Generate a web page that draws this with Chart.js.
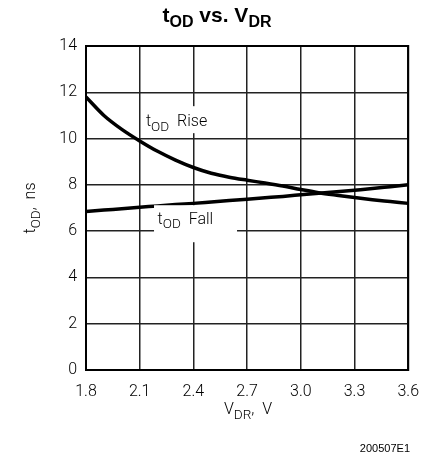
<!DOCTYPE html>
<html>
<head>
<meta charset="utf-8">
<script src="https://cdn.jsdelivr.net/npm/chart.js@4/dist/chart.umd.min.js"></script>
<style>
  body { margin: 0; background: #fff; }
  canvas { display: block; }
</style>
</head>
<body>
<canvas id="myChart" width="431" height="469"></canvas>
<script>
// supply voltage, V
const vdr = [1.8, 1.9, 2.0, 2.1, 2.2, 2.3, 2.4, 2.5, 2.6, 2.7, 2.8, 2.9, 3.0, 3.1, 3.2, 3.3, 3.4, 3.5, 3.6]
// tOD rise, ns
const riseNs = [11.8, 11.0, 10.4, 9.9, 9.45, 9.07, 8.75, 8.5, 8.33, 8.2, 8.08, 7.95, 7.8, 7.66, 7.55, 7.45, 7.36, 7.28, 7.2]
// tOD fall, ns
const fallNs = [6.85, 6.91, 6.97, 7.03, 7.09, 7.15, 7.2, 7.26, 7.32, 7.38, 7.44, 7.5, 7.57, 7.64, 7.7, 7.77, 7.84, 7.92, 8.0]
const xTicks = [1.8, 2.1, 2.4, 2.7, 3.0, 3.3, 3.6]
const yTicks = [0, 2, 4, 6, 8, 10, 12, 14]

const FONT = "Roboto, 'DejaVu Sans', sans-serif"
const TITLEFONT = "'Liberation Sans', Arial, sans-serif"

// text with a subscript part: parts = [[text, sub?], ...]
function subText(ctx, parts, x, y, size, align) {
  let w = 0
  parts.forEach(p => {
    ctx.font = "300 " + (p[1] ? size * 0.85 : size) + "px " + FONT
    w += ctx.measureText(p[0]).width
  })
  let cx = align == "center" ? x - w / 2 : x
  ctx.textAlign = "left"
  ctx.textBaseline = "alphabetic"
  parts.forEach(p => {
    ctx.font = "300 " + (p[1] ? size * 0.85 : size) + "px " + FONT
    ctx.fillText(p[0], cx, p[1] ? y + size * 0.3 : y)
    cx += ctx.measureText(p[0]).width
  })
  return w
}

const extras = {
  id: "extras",
  afterDatasetsDraw: chart => {
    const ctx = chart.ctx
    const xs = chart.scales.x, ys = chart.scales.y
    ctx.save()

    // curve labels with white boxes over the grid
    ctx.fillStyle = "#fff"
    ctx.fillRect(xs.getPixelForValue(2.15), ys.getPixelForValue(11.4), 80, 27)
    ctx.fillRect(xs.getPixelForValue(2.18), ys.getPixelForValue(7.12), 83, 37)
    ctx.fillStyle = "#000"
    subText(ctx, [["t"], ["OD", 1], ["  Rise"]], xs.getPixelForValue(2.135), ys.getPixelForValue(10.55), 16, "left")
    subText(ctx, [["t"], ["OD", 1], ["  Fall"]], xs.getPixelForValue(2.2), ys.getPixelForValue(6.33), 16, "left")

    // title
    const big = "bold 21px " + TITLEFONT, small = "bold 16px " + TITLEFONT
    ctx.font = big
    let t1 = ctx.measureText("t").width, t3 = ctx.measureText(" vs. V").width
    ctx.font = small
    let t2 = ctx.measureText("OD").width, t4 = ctx.measureText("DR").width
    let x0 = 217 - (t1 + t2 + t3 + t4) / 2
    ctx.textAlign = "left"
    ctx.font = big
    ctx.fillText("t", x0, 22)
    ctx.fillText(" vs. V", x0 + t1 + t2, 22)
    ctx.font = small
    ctx.fillText("OD", x0 + t1, 27)
    ctx.fillText("DR", x0 + t1 + t2 + t3, 27)

    // axis titles
    subText(ctx, [["V"], ["DR", 1], [",  V"]], 248, 414, 16, "center")
    ctx.save()
    ctx.translate(35, 208)
    ctx.rotate(-Math.PI / 2)
    subText(ctx, [["t"], ["OD", 1], [",  ns"]], 0, 0, 16, "center")
    ctx.restore()

    ctx.font = "11px " + TITLEFONT
    ctx.textAlign = "right"
    ctx.fillText("200507E1", 410, 452)
    ctx.restore()
  }
}

const ctx = document.getElementById("myChart").getContext("2d")
new Chart(ctx, {
  type: "line",
  data: {
    datasets: [
      { label: "Rise", data: vdr.map((v, i) => ({ x: v, y: riseNs[i] })) },
      { label: "Fall", data: vdr.map((v, i) => ({ x: v, y: fallNs[i] })) }
    ]
  },
  options: {
    responsive: false,
    animation: false,
    events: [],
    layout: { padding: { left: 46, right: 22, top: 46, bottom: 69 } },
    elements: {
      line: { borderColor: "#000", borderWidth: 3.5, tension: 0.4, cubicInterpolationMode: "monotone" },
      point: { radius: 0 }
    },
    plugins: { legend: { display: false }, tooltip: { enabled: false } },
    scales: {
      x: {
        type: "linear", min: 1.8, max: 3.6,
        afterBuildTicks: s => { s.ticks = xTicks.map(v => ({ value: v })) },
        afterFit: s => { s.height = 30 },
        grid: { color: "#222", lineWidth: 1.5, drawTicks: false },
        border: { color: "#000", width: 2 },
        ticks: { color: "#000", padding: 12, font: { family: FONT, size: 16, weight: 300 }, callback: v => v.toFixed(1) }
      },
      y: {
        type: "linear", min: 0, max: 14,
        afterBuildTicks: s => { s.ticks = yTicks.map(v => ({ value: v })) },
        afterFit: s => { s.width = 40 },
        grid: { color: "#222", lineWidth: 1.5, drawTicks: false },
        border: { color: "#000", width: 2 },
        ticks: { color: "#000", padding: 9, font: { family: FONT, size: 16, weight: 300 } }
      }
    }
  },
  plugins: [extras, {
    id: "frame",
    afterDraw: chart => {
      const a = chart.chartArea, c = chart.ctx
      c.save()
      c.strokeStyle = "#000"
      c.lineWidth = 2
      c.strokeRect(a.left, a.top, a.right - a.left, a.bottom - a.top)
      c.restore()
    }
  }]
})
</script>
</body>
</html>
